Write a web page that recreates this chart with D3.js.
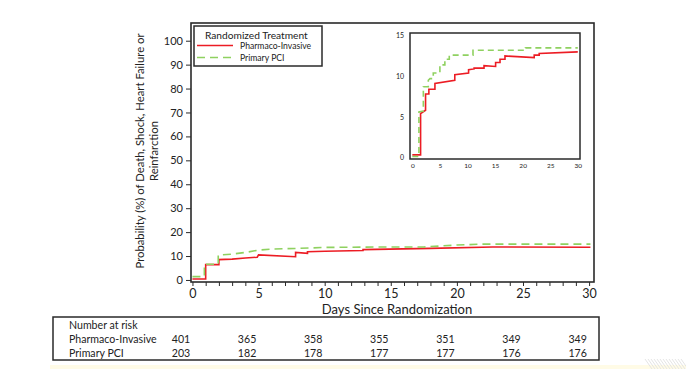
<!DOCTYPE html>
<html lang="en">
<head>
<meta charset="UTF-8" />
<title>Probability of Death, Shock, Heart Failure or Reinfarction</title>
<script src="https://cdnjs.cloudflare.com/ajax/libs/d3/7.8.5/d3.min.js"></script>
<style>
  body { margin: 0; background: #fff; }
  svg text { font-family: Lato, "Liberation Sans", sans-serif; fill: #222; }
</style>
</head>
<body>
<div id="chart"></div>
<script>
// ---- data ----
// main panel curves: [day, percent]
const pharmacoMain = [[0,0.4],[1,0.4],[1,6.4],[2,6.4],[2,8.5],[3,8.7],[4,9.2],[4.9,9.5],[5,10.5],
  [7.8,9.7],[7.8,11.5],[8.7,11.1],[8.7,11.8],[10,12],[12.9,12.3],[12.9,12.7],[14.9,12.9],
  [18,13.2],[22.7,13.8],[30.1,13.7]];
const pciMain = [[0,1.4],[0.9,1.4],[0.9,6.6],[1.95,6.6],[1.95,10.4],[3,10.8],[4,11.5],[5,12.5],
  [6,12.9],[8,13.2],[10,13.6],[15,13.8],[17.5,13.8],[20,14.6],[22,15],[30.1,15]];
// inset curves
const pharmacoInset = [[0,0.3],[1.5,0.3],[1.5,5.4],[2.4,5.8],[2.4,7.8],[3,7.8],[3,8.4],[4.1,8.4],
  [4.1,9.1],[7.7,9.5],[7.7,10.2],[10.2,10.4],[10.2,10.8],[11.2,10.9],[11.2,11],[13,11],[13,11.3],
  [15.1,11.2],[15.1,11.7],[15.9,11.7],[15.9,12.1],[16.8,12.1],[16.8,12.5],[22.1,12.3],[22.1,12.6],
  [23,12.6],[23,12.8],[30,13]];
const pciInset = [[0,0.1],[1.2,0.1],[1.2,5.6],[2,5.7],[2,8.7],[2.9,8.7],[2.9,9.5],[3.2,9.7],[3.8,9.7],
  [3.8,10.4],[5,10.4],[5,11.4],[5.9,11.4],[5.9,12.1],[6.7,12.1],[6.7,12.6],[11,12.6],[11,13.2],
  [20.5,13.2],[20.5,13.5],[30,13.5]];

const yTicks = d3.range(0, 101, 10);
const xTicks = d3.range(0, 31, 1);
const insetYTicks = [0, 5, 10, 15];
const insetXTicks = [0, 5, 10, 15, 20, 25, 30];

const seriesNames = ["Pharmaco-Invasive", "Primary PCI"];
const riskDays = [0, 5, 10, 15, 20, 25, 30];
const riskPharmaco = [401, 365, 358, 355, 351, 349, 349];
const riskPci = [203, 182, 178, 177, 177, 176, 176];

const RED = "#ec1c24", GREEN = "#8fd160", INK = "#2a2a2a";

// ---- svg ----
const svg = d3.select("#chart").append("svg").attr("width", 686).attr("height", 369);

// main scales
const x = d3.scaleLinear().domain([-0.11, 30.37]).range([191, 594]);
const y = d3.scaleLinear().domain([-0.85, 107.4]).range([282, 23]);

// y axis
const gy = svg.append("g").attr("transform", "translate(191,0)")
  .call(d3.axisLeft(y).tickValues(yTicks).tickSize(5).tickPadding(3).tickSizeOuter(0));
gy.select(".domain").remove();
gy.selectAll(".tick line").attr("stroke", INK);
gy.selectAll(".tick text").style("font-size", "11px").attr("fill", INK);

// x axis
const gx = svg.append("g").attr("transform", "translate(0,282)")
  .call(d3.axisBottom(x).tickValues(xTicks).tickSize(4).tickPadding(3)
    .tickFormat(d => d % 5 === 0 ? d : ""));
gx.select(".domain").remove();
gx.selectAll(".tick line").attr("stroke", INK);
gx.selectAll(".tick text").style("font-size", "12.5px").attr("fill", INK);

// curves
const line = d3.line().x(d => x(d[0])).y(d => y(d[1]));
svg.append("path").datum(pharmacoMain).attr("d", line)
  .attr("fill", "none").attr("stroke", RED).attr("stroke-width", 1.6);
svg.append("path").datum(pciMain).attr("d", line)
  .attr("fill", "none").attr("stroke", GREEN).attr("stroke-width", 1.6)
  .attr("stroke-dasharray", "8,5");

// frame
svg.append("rect").attr("x", 191).attr("y", 23).attr("width", 403).attr("height", 259)
  .attr("fill", "none").attr("stroke", INK).attr("stroke-width", 1.6);

// axis titles
svg.append("text").attr("x", 397).attr("y", 314).attr("text-anchor", "middle")
  .style("font-size", "13px").text("Days Since Randomization");
const yt = svg.append("text").attr("transform", "translate(0,151) rotate(-90)")
  .attr("text-anchor", "middle").style("font-size", "11.3px");
yt.append("tspan").attr("x", 0).attr("y", 144).text("Probability (%) of Death, Shock, Heart Failure or");
yt.append("tspan").attr("x", 0).attr("y", 157.5).text("Reinfarction");

// legend
const lg = svg.append("g");
lg.append("rect").attr("x", 194).attr("y", 26).attr("width", 128).attr("height", 40)
  .attr("fill", "#fff").attr("stroke", INK).attr("stroke-width", 1.5);
lg.append("text").attr("x", 205).attr("y", 38.5).style("font-size", "10.2px").text("Randomized Treatment");
seriesNames.forEach((name, i) => {
  const ly = 45.5 + i * 12;
  lg.append("line").attr("x1", 197).attr("x2", 233).attr("y1", ly).attr("y2", ly)
    .attr("stroke", i === 0 ? RED : GREEN).attr("stroke-width", 1.6)
    .attr("stroke-dasharray", i === 0 ? null : "8,5");
  lg.append("text").attr("x", 240).attr("y", ly + 3.2).style("font-size", "8.6px").text(name);
});

// inset
const ix = d3.scaleLinear().domain([-0.42, 30.4]).range([410, 580]);
const iy = d3.scaleLinear().domain([-0.21, 15.33]).range([159, 33]);
const iline = d3.line().x(d => ix(d[0])).y(d => iy(d[1]));
svg.append("path").datum(pharmacoInset).attr("d", iline)
  .attr("fill", "none").attr("stroke", RED).attr("stroke-width", 1.6);
svg.append("path").datum(pciInset).attr("d", iline)
  .attr("fill", "none").attr("stroke", GREEN).attr("stroke-width", 1.6)
  .attr("stroke-dasharray", "6,4");
svg.append("rect").attr("x", 410).attr("y", 33).attr("width", 170).attr("height", 126)
  .attr("fill", "none").attr("stroke", INK).attr("stroke-width", 1.5);
const iya = svg.append("g").attr("transform", "translate(410,0)")
  .call(d3.axisLeft(iy).tickValues(insetYTicks).tickSize(0).tickPadding(6));
iya.select(".domain").remove();
iya.selectAll(".tick text").style("font-size", "7px").attr("fill", "#555");
const ixa = svg.append("g").attr("transform", "translate(0,159)")
  .call(d3.axisBottom(ix).tickValues(insetXTicks).tickSize(0).tickPadding(4));
ixa.select(".domain").remove();
ixa.selectAll(".tick text").style("font-size", "6.5px").attr("fill", "#555");

// number at risk table
svg.append("rect").attr("x", 53).attr("y", 317).attr("width", 546).attr("height", 43)
  .attr("fill", "#fff").attr("stroke", INK).attr("stroke-width", 1.5);
const rowY = [329, 343, 357];
svg.append("text").attr("x", 69).attr("y", rowY[0]).style("font-size", "10.6px").text("Number at risk");
[riskPharmaco, riskPci].forEach((row, r) => {
  svg.append("text").attr("x", 69).attr("y", rowY[r + 1]).style("font-size", "10.6px").text(seriesNames[r]);
  svg.selectAll(null).data(row).join("text")
    .attr("x", (d, i) => x(riskDays[i]) - 11.5).attr("y", rowY[r + 1])
    .attr("text-anchor", "middle").style("font-size", "10.6px").text(d => d);
});

// slide decoration at the bottom
svg.append("rect").attr("x", 50).attr("y", 365).attr("width", 636).attr("height", 4).attr("fill", "#fffbe6");
svg.append("g").selectAll("line").data(d3.range(652, 690, 3)).join("line")
  .attr("x1", d => d).attr("y1", 369).attr("x2", d => d - 7).attr("y2", 359)
  .attr("stroke", "#e4e4e4").attr("stroke-width", 1);
</script>
</body>
</html>
